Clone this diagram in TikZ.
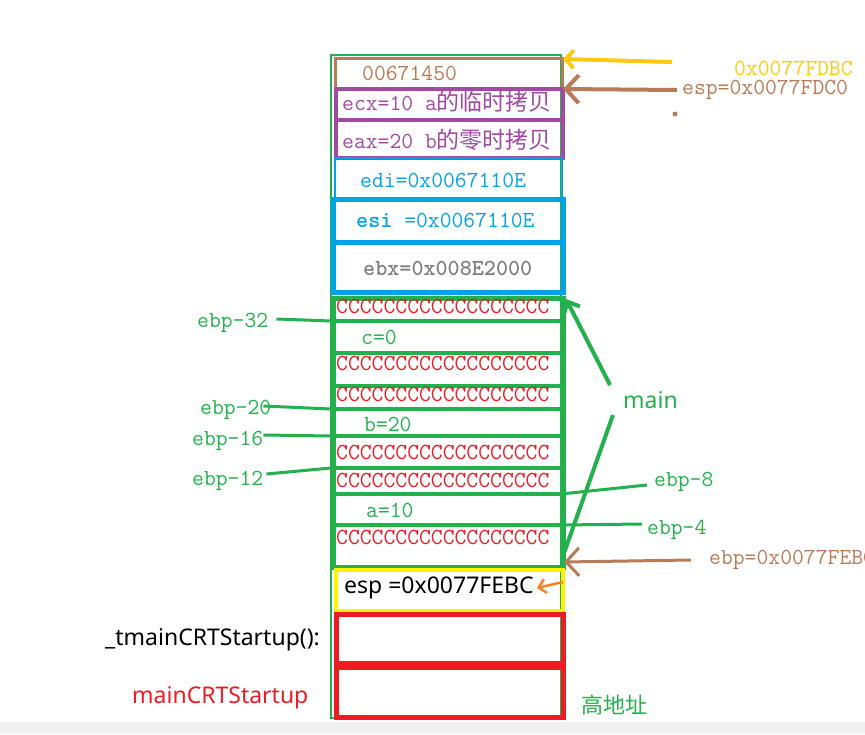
\documentclass[tikz,border=0pt]{standalone}
\usepackage{fontspec}
\newfontfamily\cjk{Noto Sans CJK SC}
\newfontfamily\uisans{Noto Sans}
\usetikzlibrary{arrows.meta}
\definecolor{pbrown}{RGB}{185,122,87}
\definecolor{pgreen}{RGB}{34,177,76}
\definecolor{pblue}{RGB}{0,162,232}
\definecolor{ppurple}{RGB}{163,73,164}
\definecolor{pred}{RGB}{237,28,36}
\definecolor{pyellow}{RGB}{255,242,0}
\definecolor{pgold}{RGB}{255,201,14}
\definecolor{porange}{RGB}{255,127,39}
\definecolor{pgray}{RGB}{127,127,127}
\definecolor{pstrip}{RGB}{240,240,240}
\begin{document}
\begin{tikzpicture}[x=1pt,y=-1pt,
  cell/.style={rectangle, minimum width=227pt, inner sep=0pt, anchor=north west},
  txt/.style={anchor=west, inner sep=0pt, font=\fontsize{23}{23}\selectfont\ttfamily},
  ccc/.style={txt, text=pred},
  ui/.style={anchor=west, inner sep=0pt, font=\fontsize{23}{26}\selectfont\uisans},
  gline/.style={draw=pgreen, line width=3pt},
  barrow/.style={draw=pbrown, line width=4pt, -{Straight Barb[length=13pt,width=28pt]}}]
\useasboundingbox (0,0) rectangle (865,734);
\fill [pstrip] (0,722) rectangle (865,734);
% stack column
\draw [pgreen, line width=2pt] (331,55) rectangle (561,718);
\node [cell, draw=pbrown, line width=3pt, minimum height=30pt] (r0) at (334,57) {};
\node [cell, draw=ppurple, line width=4pt, minimum height=31pt] (r1) at (334,87) {};
\node [cell, draw=ppurple, line width=4pt, minimum height=38pt] (r2) at (334,118) {};
\node [cell, draw=pblue, line width=2pt, minimum height=41pt] (r3) at (334,157) {};
\node [cell, draw=pblue, line width=5pt, minimum width=230pt, minimum height=43pt] (r4) at (331,197) {};
\node [cell, draw=pblue, line width=5pt, minimum width=230pt, minimum height=50pt] (r5) at (331,240) {};
\node [cell, draw=pgreen, line width=4.5pt, minimum width=230pt, minimum height=269pt] (frame) at (331,296) {};
\foreach \y [count=\i] in {321,353,386,409,436,468,494,525} {
  \draw [pgreen, line width=3.5pt] (331,\y) -- (561,\y);
  \coordinate (sL\i) at (331,\y);
  \coordinate (sR\i) at (561,\y);
}
\node [cell, draw=pyellow, line width=4pt, minimum height=41pt] (ret) at (334,568) {};
\node [cell, draw=pred, line width=4.5pt, minimum height=49pt] (f1) at (334,612) {};
\node [cell, draw=pred, line width=4.5pt, minimum height=50pt] (f2) at (334,665) {};
% row texts
\node [txt, text=pbrown] (t0) at (362,73) {00671450};
\node [txt, text=ppurple] (t1) at (342,102) {ecx=10 a{\cjk 的临时拷贝}};
\node [txt, text=ppurple] (t2) at (342,140) {eax=20 b{\cjk 的零时拷贝}};
\node [txt, text=pblue] (t3) at (360,180) {edi=0x0067110E};
\node [txt, text=pblue] (t4) at (356,220) {\textbf{esi} =0x0067110E};
\node [txt, text=pgray, font=\fontsize{23}{23}\selectfont\ttfamily\bfseries] (t5) at (363,268) {ebx=0x008E2000};
\foreach \y [count=\i] in {306,363,394,452,480,537}
  \node [ccc] (cc\i) at (336,\y) {CCCCCCCCCCCCCCCCCC};
\node [txt, text=pgreen] (vc) at (361,337) {c=0};
\node [txt, text=pgreen] (vb) at (364,424) {b=20};
\node [txt, text=pgreen] (va) at (366,510) {a=10};
\node [ui] (espB) at (344,588) {esp =0x0077FEBC};
% labels
\node [txt, text=pgreen] (e32) at (197,323) {ebp-32};
\node [txt, text=pgreen] (e20) at (200,410) {ebp-20};
\node [txt, text=pgreen] (e16) at (192,441) {ebp-16};
\node [txt, text=pgreen] (e12) at (192,481) {ebp-12};
\node [txt, text=pgreen] (e8) at (654,482) {ebp-8};
\node [txt, text=pgreen] (e4) at (647,530) {ebp-4};
\node [ui, text=pgreen] (main) at (623,400) {main};
\node [txt, text=pgold] (fdbc) at (734,68) {0x0077FDBC};
\node [txt, text=pbrown] (fdc0) at (682,90) {esp=0x0077FDC0};
\node [txt, text=pbrown] (febc) at (709,560) {ebp=0x0077FEBC};
\node [ui] (tmain) at (105,640) {\_tmainCRTStartup():};
\node [ui, text=pred] (mcrt) at (132,698) {mainCRTStartup};
\node [anchor=west, inner sep=0pt, font=\fontsize{22}{24}\selectfont\cjk, text=pgreen] (high) at (581,705) {高地址};
\fill [pbrown] (675,114) circle (2.5);
% connectors
\draw [gline] ([xshift=8pt,yshift=4pt]e32.east) -- (sL1);
\draw [gline] ([xshift=-8pt,yshift=4pt]e20.east) -- (sL4);
\draw [gline] ([xshift=0pt,yshift=6pt]e16.east) -- (sL5);
\draw [gline] ([xshift=3pt,yshift=7pt]e12.east) -- (sL6);
\draw [gline] (sR7) -- ([xshift=-7pt,yshift=-3pt]e8.west);
\draw [gline] (sR8) -- ([xshift=-5pt,yshift=6pt]e4.west);
\coordinate (mtop) at (566,299);
\coordinate (mbot) at (564,553);
\draw [gline, line width=4pt, -{Straight Barb[length=10pt,width=18pt]}] ([xshift=-13pt,yshift=15pt]main.west) -- (mtop);
\draw [gline, line width=4pt] ([xshift=-10pt,yshift=-15pt]main.west) -- (mbot);
\coordinate (pdbc) at (563,59);
\coordinate (pdc0) at (563,89);
\coordinate (pebp) at (564,562);
\coordinate (pesp) at (563,582);
\draw [pgold, line width=4pt, -{Straight Barb[length=8pt,width=18pt]}] ([shift={(-62pt,6pt)}]fdbc.west) -- (pdbc);
\draw [barrow] ([xshift=-5pt]fdc0.west) -- (pdc0);
\draw [barrow, line width=3pt] ([xshift=-18pt]febc.west) -- (pebp);
\draw [porange, line width=2.5pt, -{Straight Barb[length=7pt,width=14pt]}] (pesp) -- ([xshift=3pt]espB.east);
\end{tikzpicture}
\end{document}
